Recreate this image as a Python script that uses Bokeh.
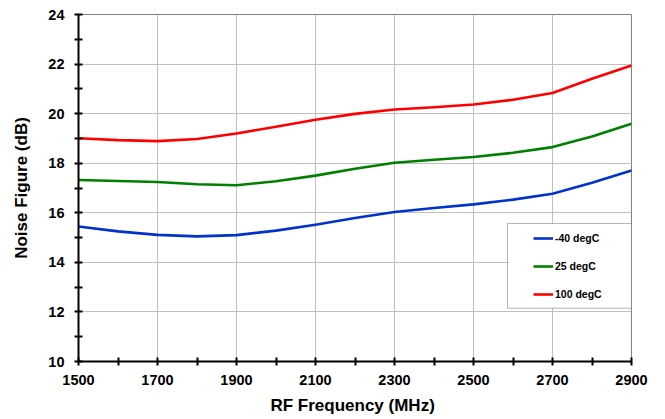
from bokeh.plotting import figure
from bokeh.models import (Range1d, FixedTicker, Legend, LegendItem, BoxAnnotation)
from bokeh.embed import file_html
from bokeh.resources import INLINE

freq = [1500, 1600, 1700, 1800, 1900, 2000, 2100, 2200, 2300, 2400, 2500, 2600, 2700, 2800, 2900]
nf_m40 = [15.45, 15.25, 15.11, 15.05, 15.10, 15.28, 15.52, 15.79, 16.03, 16.19, 16.34, 16.53, 16.77, 17.21, 17.71]
nf_25 = [17.32, 17.28, 17.24, 17.15, 17.11, 17.27, 17.50, 17.78, 18.02, 18.14, 18.25, 18.42, 18.65, 19.08, 19.59]
nf_100 = [19.01, 18.93, 18.89, 18.98, 19.20, 19.47, 19.75, 19.99, 20.17, 20.26, 20.37, 20.56, 20.83, 21.41, 21.94]
series_names = ["-40 degC", "25 degC", "100 degC"]
series_colors = ["#0033cc", "#008000", "#ff0000"]

x_major = [1500, 1700, 1900, 2100, 2300, 2500, 2700, 2900]
x_minor = [1600, 1800, 2000, 2200, 2400, 2600, 2800]
y_major = [10, 12, 14, 16, 18, 20, 22, 24]
y_minor = [11, 13, 15, 17, 19, 21, 23]

FONT = "Liberation Sans"

p = figure(width=657, height=419, output_backend="svg", toolbar_location=None,
           x_range=Range1d(1500, 2900), y_range=Range1d(10, 24),
           min_border_left=78, min_border_right=26, min_border_top=14, min_border_bottom=58)
p.outline_line_color = "#808080"
p.outline_line_width = 1
p.background_fill_color = "white"
p.border_fill_color = "white"

p.xaxis.ticker = FixedTicker(ticks=x_major, minor_ticks=x_minor)
p.yaxis.ticker = FixedTicker(ticks=y_major, minor_ticks=y_minor)
for ax in (p.xaxis, p.yaxis):
    ax.axis_line_color = "black"
    ax.axis_line_width = 2
    ax.major_tick_line_color = "black"
    ax.major_tick_line_width = 2
    ax.minor_tick_line_color = "black"
    ax.minor_tick_line_width = 2
    ax.major_tick_in = 4
    ax.major_tick_out = 4
    ax.minor_tick_in = 4
    ax.minor_tick_out = 4
    ax.major_label_text_font = FONT
    ax.major_label_text_font_style = "bold"
    ax.major_label_text_font_size = "14.5px"
    ax.major_label_text_color = "black"
    ax.axis_label_text_font = FONT
    ax.axis_label_text_font_style = "bold"
    ax.axis_label_text_font_size = "17px"
    ax.axis_label_text_color = "black"
p.xaxis.axis_label = "RF Frequency  (MHz)"
p.yaxis.axis_label = "Noise Figure (dB)"
p.xaxis.major_label_standoff = 9
p.xaxis.axis_label_standoff = 8
p.yaxis.major_label_standoff = 10
p.yaxis.axis_label_standoff = 14

p.xgrid.grid_line_color = "#c0c0c0"
p.ygrid.grid_line_color = "#c0c0c0"
p.xgrid.grid_line_width = 1
p.ygrid.grid_line_width = 1

renderers = []
for vals, c in zip([nf_m40, nf_25, nf_100], series_colors):
    r = p.line(freq, vals, line_color=c, line_width=2.6, line_join="round")
    renderers.append(r)

box = BoxAnnotation(left=2586, right=2900, top=15.57, bottom=12.15,
                    fill_color="white", fill_alpha=1.0, line_color="black", line_width=1)
p.add_layout(box)

legend = Legend(items=[LegendItem(label=n, renderers=[r]) for n, r in zip(series_names, renderers)],
                location=(455, 60), padding=0, spacing=14, label_height=14, glyph_height=14,
                glyph_width=20, label_standoff=2, border_line_alpha=0, background_fill_alpha=0,
                label_text_font=FONT, label_text_font_style="bold", label_text_font_size="10.5px",
                label_text_color="black", margin=0)
p.add_layout(legend, "center")

open("out.html", "w").write(file_html(p, INLINE))
